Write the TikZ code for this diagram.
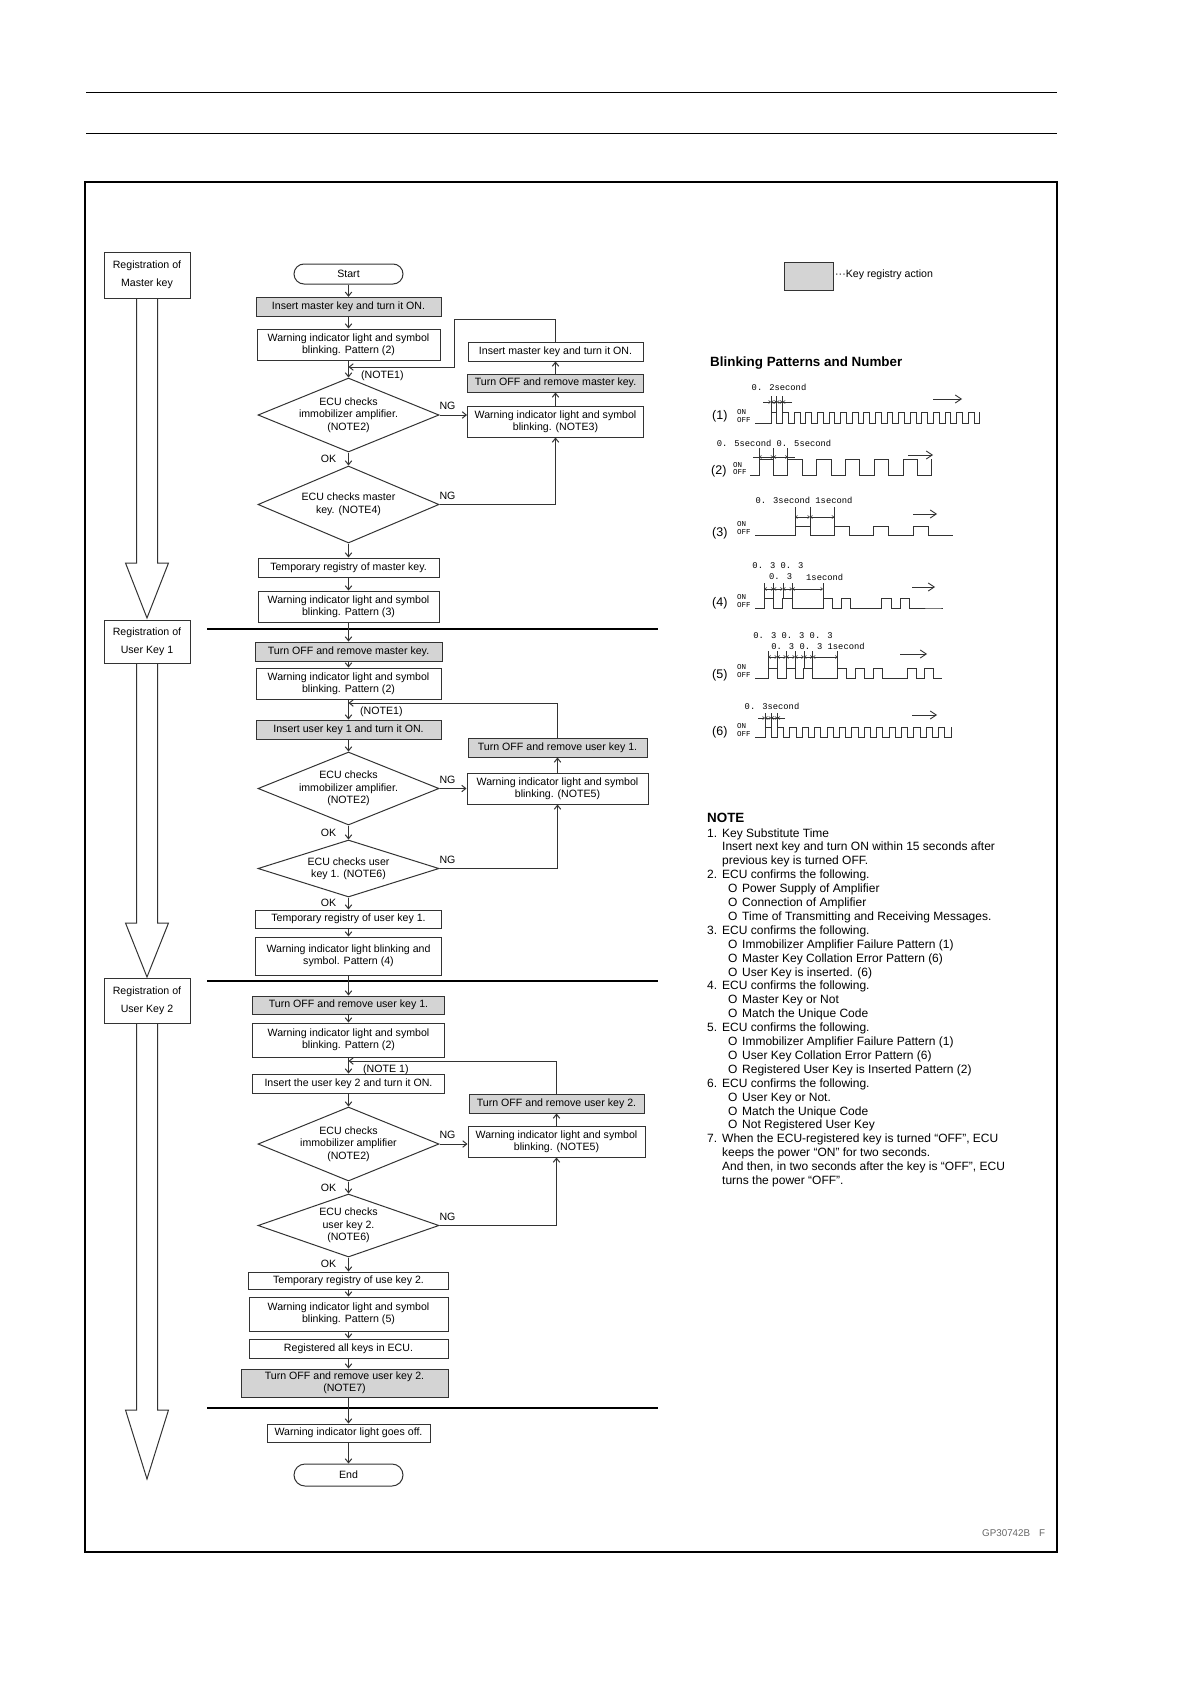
\documentclass[tikz,border=0pt]{standalone}
\usepackage{fontspec}
\setmainfont{Liberation Sans}
\newfontfamily\monof{Liberation Mono}
\usetikzlibrary{arrows.meta,calc,shapes.geometric}
\newcommand\nnum[2]{\makebox[15pt][l]{#1}#2}
\newcommand\ncont[1]{\hspace*{15pt}#1}
\newcommand\nbul[1]{\hspace*{21pt}\makebox[14pt][l]{O}#1}
\begin{document}
\begin{tikzpicture}[x=1pt,y=-1pt,
  ln/.style={draw=black!80, line width=1pt},
  fbox/.style={ln, rectangle, inner sep=0pt, align=center, font=\fontsize{10.6}{11.7}\selectfont, fill=white},
  gbox/.style={fbox, fill=black!17},
  lbox/.style={fbox, minimum width=86pt, font=\fontsize{10.6}{18}\selectfont},
  dia/.style={ln, diamond, inner sep=0pt, fill=white, minimum width=181pt},
  dtext/.style={inner sep=0pt, align=center, font=\fontsize{10.6}{12.5}\selectfont},
  arr/.style={ln, -{Straight Barb[length=4pt,width=6.5pt]}},
  lab/.style={inner sep=0pt, font=\fontsize{10.6}{11.7}\selectfont},
  sepline/.style={draw=black, line width=2pt},
  wave/.style={draw=black!80, line width=0.9pt},
  tick/.style={draw=black!80, line width=0.7pt},
  dim/.style={draw=black!80, line width=0.6pt, {Straight Barb[length=2pt,width=3pt]}-{Straight Barb[length=2pt,width=3pt]}},
  dimr/.style={draw=black!80, line width=0.6pt, -{Straight Barb[length=2pt,width=3pt]}},
  plab/.style={inner sep=0pt, anchor=west, font=\fontsize{12.5}{14}\selectfont},
  onoff/.style={inner sep=0pt, anchor=west, font=\monof\fontsize{7.5}{8}\selectfont},
  ptxt/.style={inner sep=0pt, font=\monof\fontsize{8.8}{10}\selectfont},
  rarr/.style={draw=black!80, line width=0.9pt, -{Straight Barb[length=6pt,width=8pt]}},
  notetxt/.style={inner sep=0pt, anchor=base west, font=\fontsize{12}{13.9}\selectfont},
  head/.style={inner sep=0pt, anchor=west, font=\bfseries\fontsize{13.4}{15}\selectfont}
]
\useasboundingbox (0,0) rectangle (1198,1691);
\fill[white] (0,0) rectangle (1198,1691);

% header lines and frame
\draw[line width=1pt] (86,93) -- (1057,93);
\draw[line width=1pt] (86,134) -- (1057,134);
\draw[line width=1.5pt] (85,182) rectangle (1057,1552);

% separators
\draw[sepline] (207,629) -- (658,629);
\draw[sepline] (207,981) -- (658,981);
\draw[sepline] (207,1408) -- (658,1408);

% ---------------- left column
\node[lbox, minimum height=46pt] (L1) at (147,275) {Registration of\\Master key};
\node[lbox, minimum height=43pt] (L2) at (147,641.5) {Registration of\\User Key 1};
\node[lbox, minimum height=45pt] (L3) at (147,1000.5) {Registration of\\User Key 2};
\coordinate (a1h) at (147,563); \coordinate (a1t) at (147,618);
\coordinate (a2h) at (147,923); \coordinate (a2t) at (147,977);
\coordinate (a3h) at (147,1410); \coordinate (a3t) at (147,1479);
\draw[ln] ($(L1.south)+(-10.5,0)$) -- ($(a1h)+(-10.5,0)$) -- ($(a1h)+(-21.5,0)$) -- (a1t) -- ($(a1h)+(21.5,0)$) -- ($(a1h)+(10.5,0)$) -- ($(L1.south)+(10.5,0)$);
\draw[ln] ($(L2.south)+(-10.5,0)$) -- ($(a2h)+(-10.5,0)$) -- ($(a2h)+(-21.5,0)$) -- (a2t) -- ($(a2h)+(21.5,0)$) -- ($(a2h)+(10.5,0)$) -- ($(L2.south)+(10.5,0)$);
\draw[ln] ($(L3.south)+(-10.5,0)$) -- ($(a3h)+(-10.5,0)$) -- ($(a3h)+(-21.5,0)$) -- (a3t) -- ($(a3h)+(21.5,0)$) -- ($(a3h)+(10.5,0)$) -- ($(L3.south)+(10.5,0)$);

% ---------------- section 1
\node[fbox, rounded corners=10pt, minimum width=109pt, minimum height=20pt] (start) at (348.5,274) {Start};
\node[gbox, minimum width=185pt, minimum height=19.4pt] (b1) at (348.5,307) {Insert master key and turn it ON.};
\node[fbox, minimum width=183pt, minimum height=31pt] (b2) at (348.5,344.5) {Warning indicator light and symbol\\blinking. Pattern (2)};
\node[fbox, minimum width=175pt, minimum height=19pt] (r1) at (555.5,351.5) {Insert master key and turn it ON.};
\node[gbox, minimum width=176pt, minimum height=18pt] (r2) at (555.5,383) {Turn OFF and remove master key.};
\node[fbox, minimum width=176pt, minimum height=31pt] (r3) at (555.5,421.5) {Warning indicator light and symbol\\blinking. (NOTE3)};
\node[dia, minimum height=74pt] (d1) at (348.5,415) {};
\node[dtext] (d1t) at (d1.center) {ECU checks\\immobilizer amplifier.\\(NOTE2)};
\node[dia, minimum height=77pt] (d2) at (348.5,504.5) {};
\node[dtext] (d2t) at (d2.center) {ECU checks master\\key. (NOTE4)};
\node[fbox, minimum width=181pt, minimum height=19pt] (b3) at (348.5,567.5) {Temporary registry of master key.};
\node[fbox, minimum width=181pt, minimum height=31pt] (b4) at (348.5,606.5) {Warning indicator light and symbol\\blinking. Pattern (3)};
\coordinate (j1) at (348.5,367);
\coordinate (k1) at (454,319);
\node[lab, anchor=west] (n1) at (361,375.5) {(NOTE1)};
\node[lab] (ng1) at (447.5,406) {NG};
\node[lab] (ok1) at (328.5,459) {OK};
\node[lab] (ng2) at (447.5,496) {NG};

\draw[arr] (start.south) -- (start.south |- b1.north);
\draw[arr] (b1.south) -- (b1.south |- b2.north);
\draw[arr] (b2.south) -- (b2.south |- d1.north);
\draw[arr] (r1.north) |- (k1) |- (j1);
\draw[arr] (d1.east) -- (d1.east -| r3.west);
\draw[arr] (r3.north) -- (r3.north |- r2.south);
\draw[arr] (r2.north) -- (r2.north |- r1.south);
\draw[arr] (d1.south) -- (d1.south |- d2.north);
\draw[arr] (d2.east) -| (r3.south);
\draw[arr] (d2.south) -- (d2.south |- b3.north);
\draw[arr] (b3.south) -- (b3.south |- b4.north);

% ---------------- section 2
\node[gbox, minimum width=187pt, minimum height=19pt] (b5) at (348.5,651.5) {Turn OFF and remove master key.};
\node[fbox, minimum width=185pt, minimum height=31pt] (b6) at (348.5,683.5) {Warning indicator light and symbol\\blinking. Pattern (2)};
\node[gbox, minimum width=185pt, minimum height=19pt] (b7) at (348.5,729.5) {Insert user key 1 and turn it ON.};
\node[gbox, minimum width=179pt, minimum height=19pt] (r4) at (557.5,747.5) {Turn OFF and remove user key 1.};
\node[fbox, minimum width=181pt, minimum height=31pt] (r5) at (557.5,788.5) {Warning indicator light and symbol\\blinking. (NOTE5)};
\node[dia, minimum height=73pt] (d3) at (348.5,788.5) {};
\node[dtext] (d3t) at (d3.center) {ECU checks\\immobilizer amplifier.\\(NOTE2)};
\node[dia, minimum height=57pt] (d4) at (348.5,868.5) {};
\node[dtext] (d4t) at (d4.center) {ECU checks user\\key 1. (NOTE6)};
\node[fbox, minimum width=186pt, minimum height=18pt] (b8) at (348.5,919) {Temporary registry of user key 1.};
\node[fbox, minimum width=186pt, minimum height=38pt] (b9) at (348.5,956) {Warning indicator light blinking and\\symbol. Pattern (4)};
\coordinate (j2) at (348.5,703);
\node[lab, anchor=west] (n2) at (360,711.5) {(NOTE1)};
\node[lab] (ng3) at (447.5,780) {NG};
\node[lab] (ok3) at (328.5,833) {OK};
\node[lab] (ng4) at (447.5,860) {NG};
\node[lab] (ok4) at (328.5,902.5) {OK};

\draw[arr] (b4.south) -- (b4.south |- b5.north);
\draw[arr] (b5.south) -- (b5.south |- b6.north);
\draw[arr] (b6.south) -- (b6.south |- b7.north);
\draw[arr] (r4.north) |- (j2);
\draw[arr] (b7.south) -- (b7.south |- d3.north);
\draw[arr] (d3.east) -- (d3.east -| r5.west);
\draw[arr] (r5.north) -- (r5.north |- r4.south);
\draw[arr] (d3.south) -- (d3.south |- d4.north);
\draw[arr] (d4.east) -| (r5.south);
\draw[arr] (d4.south) -- (d4.south |- b8.north);
\draw[arr] (b8.south) -- (b8.south |- b9.north);

% ---------------- section 3
\node[gbox, minimum width=192pt, minimum height=18pt] (b10) at (348.5,1005) {Turn OFF and remove user key 1.};
\node[fbox, minimum width=192pt, minimum height=34pt] (b11) at (348.5,1040) {Warning indicator light and symbol\\blinking. Pattern (2)};
\node[fbox, minimum width=192pt, minimum height=19pt] (b12) at (348.5,1083.5) {Insert the user key 2 and turn it ON.};
\node[gbox, minimum width=175pt, minimum height=19pt] (r6) at (556.5,1103.5) {Turn OFF and remove user key 2.};
\node[fbox, minimum width=177pt, minimum height=31pt] (r7) at (556.5,1141.5) {Warning indicator light and symbol\\blinking. (NOTE5)};
\node[dia, minimum height=74pt] (d5) at (348.5,1144) {};
\node[dtext] (d5t) at (d5.center) {ECU checks\\immobilizer amplifier\\(NOTE2)};
\node[dia, minimum height=63pt] (d6) at (348.5,1225.5) {};
\node[dtext] (d6t) at (d6.center) {ECU checks\\user key 2.\\(NOTE6)};
\node[fbox, minimum width=200pt, minimum height=17pt] (b13) at (348.5,1280.5) {Temporary registry of use key 2.};
\node[fbox, minimum width=199pt, minimum height=34pt] (b14) at (348.5,1314) {Warning indicator light and symbol\\blinking. Pattern (5)};
\node[fbox, minimum width=199pt, minimum height=19pt] (b15) at (348.5,1348.5) {Registered all keys in ECU.};
\node[gbox, minimum width=207pt, minimum height=28pt] (b16) at (344.5,1383) {Turn OFF and remove user key 2.\\(NOTE7)};
\node[fbox, minimum width=163pt, minimum height=18pt] (b17) at (348.5,1433) {Warning indicator light goes off.};
\node[fbox, rounded corners=11pt, minimum width=109pt, minimum height=22pt] (end) at (348.5,1475) {End};
\coordinate (j3) at (348.5,1061);
\node[lab, anchor=west] (n3) at (363,1069.5) {(NOTE 1)};
\node[lab] (ng5) at (447.5,1135) {NG};
\node[lab] (ok5) at (328.5,1188) {OK};
\node[lab] (ng6) at (447.5,1217) {NG};
\node[lab] (ok6) at (328.5,1263.5) {OK};

\draw[arr] (b9.south) -- (b9.south |- b10.north);
\draw[arr] (b10.south) -- (b10.south |- b11.north);
\draw[arr] (b11.south) -- (b11.south |- b12.north);
\draw[arr] (r6.north) |- (j3);
\draw[arr] (b12.south) -- (b12.south |- d5.north);
\draw[arr] (d5.east) -- (d5.east -| r7.west);
\draw[arr] (r7.north) -- (r7.north |- r6.south);
\draw[arr] (d5.south) -- (d5.south |- d6.north);
\draw[arr] (d6.east) -| (r7.south);
\draw[arr] (d6.south) -- (d6.south |- b13.north);
\draw[arr] (b13.south) -- (b13.south |- b14.north);
\draw[arr] (b14.south) -- (b14.south |- b15.north);
\draw[arr] (b15.south) -- (b15.south |- b16.north);
\draw[arr] (b16.south -| b17.north) -- (b17.north);
\draw[arr] (b17.south) -- (b17.south |- end.north);

% ---------------- legend
\node[gbox, minimum width=49pt, minimum height=28pt] (leg) at (808.5,276) {};
\node[lab, anchor=west] (legt) at (835,274.5) {···Key registry action};

% ---------------- blinking patterns
\node[head] (bph) at (710,363) {Blinking Patterns and Number};

% (1)
\node[plab] (p1) at (712,416) {(1)};
\node[onoff] (p1a) at (737,412.5) {ON};
\node[onoff] (p1b) at (737,420) {OFF};
\draw[wave] (755,423) -- (771,423) foreach \k in {1,...,18}{ -- ++(0,-11) -- ++(5.8,0) -- ++(0,11) -- ++(5.8,0)} -- ++(0,-11);
\foreach \x in {771,776.8,782.6} \draw[tick] (\x,396) -- (\x,412);
\draw[dimr] (763,402) -- (771,402);
\draw[dim] (771,402) -- (776.8,402);
\draw[dim] (776.8,402) -- (782.6,402);
\draw[dimr] (792,402) -- (782.6,402);
\node[ptxt] (p1t) at (779,387) {0. 2second};
\draw[rarr] (933,399) -- (962,399);

% (2)
\node[plab] (p2) at (711,471) {(2)};
\node[onoff] (p2a) at (733,465) {ON};
\node[onoff] (p2b) at (733,472.5) {OFF};
\draw[wave] (750,475) -- (759,475) foreach \k in {1,...,6}{ -- ++(0,-16) -- ++(14.4,0) -- ++(0,16) -- ++(14.4,0)} -- ++(0,-16);
\foreach \x in {759,773.4,787.8} \draw[tick] (\x,448) -- (\x,459);
\draw[dim] (759,457) -- (773.4,457);
\draw[dim] (773.4,457) -- (787.8,457);
\draw[tick] (753,457) -- (759,457);
\draw[tick] (787.8,457) -- (795,457);
\node[ptxt] (p2t) at (774,443) {0. 5second 0. 5second};
\draw[rarr] (908,455) -- (933,455);

% (3)
\node[plab] (p3) at (712,533) {(3)};
\node[onoff] (p3a) at (737,524.5) {ON};
\node[onoff] (p3b) at (737,532) {OFF};
\draw[wave] (755,535) -- (795,535) foreach \k in {1,...,4}{ -- ++(0,-9) -- ++(15,0) -- ++(0,9) -- ++(24.4,0)};
\foreach \x in {795,810,834.4} \draw[tick] (\x,507) -- (\x,526);
\draw[dim] (795,517) -- (810,517);
\draw[dim] (810,517) -- (834.4,517);
\node[ptxt] (p3t) at (804,500) {0. 3second 1second};
\draw[rarr] (913,514) -- (937,514);

% (4)
\node[plab] (p4) at (712,603) {(4)};
\node[onoff] (p4a) at (737,597.5) {ON};
\node[onoff] (p4b) at (737,605) {OFF};
\draw[wave] (755,608) -- (764.3,608) foreach \k in {1,2,3}{ -- ++(0,-10) -- ++(9.3,0) -- ++(0,10) -- ++(9.3,0) -- ++(0,-10) -- ++(9.3,0) -- ++(0,10) -- ++(30.8,0)} -- ++(3,0);
\foreach \x in {764.3,773.6,782.9,792.2,823} \draw[tick] (\x,583) -- (\x,598);
\draw[dim] (764.3,589) -- (773.6,589);
\draw[dim] (773.6,589) -- (782.9,589);
\draw[dim] (782.9,589) -- (792.2,589);
\draw[dim] (792.2,589) -- (823,589);
\node[ptxt] (p4t) at (778,566) {0. 3 0. 3};
\node[ptxt, anchor=west] (p4u) at (769,577) {0. 3};
\node[ptxt, anchor=west] (p4v) at (806,577) {1second};
\draw[rarr] (912,587) -- (935,587);

% (5)
\node[plab] (p5) at (712,675) {(5)};
\node[onoff] (p5a) at (737,667.5) {ON};
\node[onoff] (p5b) at (737,675) {OFF};
\draw[wave] (755,678) -- (768.3,678) foreach \k in {1,2}{ -- ++(0,-10) -- ++(8.9,0) -- ++(0,10) -- ++(8.9,0) -- ++(0,-10) -- ++(8.9,0) -- ++(0,10) -- ++(8.9,0) -- ++(0,-10) -- ++(8.9,0) -- ++(0,10) -- ++(24.9,0)} -- ++(0,-10) -- ++(8.9,0) -- ++(0,10) -- ++(8.9,0) -- ++(0,-10) -- ++(8.9,0) -- ++(0,10) -- ++(8,0);
\foreach \x in {768.3,777.2,786.1,795,803.9,812.8,837.7} \draw[tick] (\x,651) -- (\x,668);
\draw[dim] (768.3,657) -- (777.2,657);
\draw[dim] (777.2,657) -- (786.1,657);
\draw[dim] (786.1,657) -- (795,657);
\draw[dim] (795,657) -- (803.9,657);
\draw[dim] (803.9,657) -- (812.8,657);
\draw[dim] (812.8,657) -- (837.7,657);
\node[ptxt] (p5t) at (793,636) {0. 3 0. 3 0. 3};
\node[ptxt] (p5u) at (818,646) {0. 3 0. 3 1second};
\draw[rarr] (900,654) -- (927,654);

% (6)
\node[plab] (p6) at (712,732) {(6)};
\node[onoff] (p6a) at (737,726.5) {ON};
\node[onoff] (p6b) at (737,734) {OFF};
\draw[wave] (755,737) -- (765,737) foreach \k in {1,...,15}{ -- ++(0,-10) -- ++(6.2,0) -- ++(0,10) -- ++(6.2,0)} -- ++(0,-10);
\foreach \x in {765,771.2,777.4} \draw[tick] (\x,713) -- (\x,727);
\draw[dimr] (758,718) -- (765,718);
\draw[dim] (765,718) -- (771.2,718);
\draw[dim] (771.2,718) -- (777.4,718);
\draw[dimr] (785,718) -- (777.4,718);
\node[ptxt] (p6t) at (772,706) {0. 3second};
\draw[rarr] (912,715) -- (937,715);

% ---------------- notes
\node[head] (nh) at (707,818) {NOTE};
\foreach \t [count=\i from 0] in {
 {\nnum{1.}{Key Substitute Time}},
 {\ncont{Insert next key and turn ON within 15 seconds after}},
 {\ncont{previous key is turned OFF.}},
 {\nnum{2.}{ECU confirms the following.}},
 {\nbul{Power Supply of Amplifier}},
 {\nbul{Connection of Amplifier}},
 {\nbul{Time of Transmitting and Receiving Messages.}},
 {\nnum{3.}{ECU confirms the following.}},
 {\nbul{Immobilizer Amplifier Failure Pattern (1)}},
 {\nbul{Master Key Collation Error Pattern (6)}},
 {\nbul{User Key is inserted. (6)}},
 {\nnum{4.}{ECU confirms the following.}},
 {\nbul{Master Key or Not}},
 {\nbul{Match the Unique Code}},
 {\nnum{5.}{ECU confirms the following.}},
 {\nbul{Immobilizer Amplifier Failure Pattern (1)}},
 {\nbul{User Key Collation Error Pattern (6)}},
 {\nbul{Registered User Key is Inserted Pattern (2)}},
 {\nnum{6.}{ECU confirms the following.}},
 {\nbul{User Key or Not.}},
 {\nbul{Match the Unique Code}},
 {\nbul{Not Registered User Key}},
 {\nnum{7.}{When the ECU-registered key is turned “OFF”, ECU}},
 {\ncont{keeps the power “ON” for two seconds.}},
 {\ncont{And then, in two seconds after the key is “OFF”, ECU}},
 {\ncont{turns the power “OFF”.}}
} \node[notetxt] (note\i) at (707,837+13.9*\i) {\t};

% code
\node[inner sep=0pt, anchor=west, text=black!60, font=\fontsize{9.8}{11}\selectfont] (code) at (982,1533) {GP30742B\hspace{9pt}F};
\end{tikzpicture}
\end{document}
